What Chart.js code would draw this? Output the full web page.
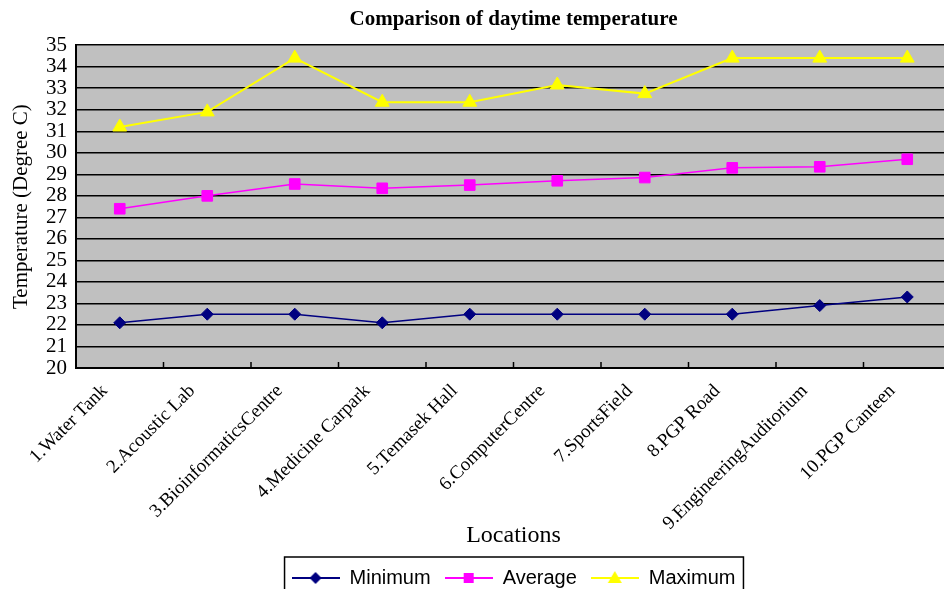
<!DOCTYPE html>
<html>
<head>
<meta charset="utf-8">
<title>Comparison of daytime temperature</title>
<script src="https://cdn.jsdelivr.net/npm/chart.js@4.4.1/dist/chart.umd.min.js"></script>
<style>
  html, body { margin: 0; padding: 0; background: #fff; overflow: hidden; }
  #tempChart { display: block; }
</style>
</head>
<body>
<canvas id="tempChart" width="960" height="598"></canvas>
<script>
const locations = [
  "1.Water Tank", "2.Acoustic Lab", "3.BioinformaticsCentre", "4.Medicine Carpark",
  "5.Temasek Hall", "6.ComputerCentre", "7.SportsField", "8.PGP Road",
  "9.EngineeringAuditorium", "10.PGP Canteen"
];
const minimumTemps = [22.1, 22.5, 22.5, 22.1, 22.5, 22.5, 22.5, 22.5, 22.9, 23.3];
const averageTemps = [27.4, 28.0, 28.55, 28.35, 28.5, 28.7, 28.85, 29.3, 29.35, 29.7];
const maximumTemps = [31.2, 31.9, 34.4, 32.35, 32.35, 33.15, 32.75, 34.4, 34.4, 34.4];
const tempTicks = [20, 21, 22, 23, 24, 25, 26, 27, 28, 29, 30, 31, 32, 33, 34, 35];

const SERIF = "'Liberation Serif', 'Times New Roman', serif";
const SANS = "'Liberation Sans', Arial, sans-serif";

/** small line + marker picture used as legend symbol */
function legendSymbol(color, shape) {
  const c = document.createElement("canvas");
  c.width = 48;
  c.height = 18;
  const g = c.getContext("2d");
  g.strokeStyle = color;
  g.fillStyle = color;
  g.lineWidth = 2;
  g.beginPath();
  g.moveTo(0, 9);
  g.lineTo(48, 9);
  g.stroke();
  g.beginPath();
  if (shape === "diamond") {
    g.moveTo(24, 3); g.lineTo(30, 9); g.lineTo(24, 15); g.lineTo(18, 9);
  } else if (shape === "square") {
    g.rect(19, 4, 10, 10);
  } else {
    g.moveTo(24, 2); g.lineTo(31, 14); g.lineTo(17, 14);
  }
  g.closePath();
  g.fill();
  return c;
}

const legendSymbols = [
  legendSymbol("#000080", "diamond"),
  legendSymbol("#FF00FF", "square"),
  legendSymbol("#FFFF00", "triangle")
];

/** grey plot background */
const plotBackground = {
  id: "plotBackground",
  beforeDraw(chart) {
    const { ctx, chartArea: a } = chart;
    ctx.save();
    ctx.fillStyle = "#C0C0C0";
    ctx.fillRect(a.left, a.top, a.right - a.left, a.bottom - a.top);
    ctx.restore();
  }
};

/** short inward tick marks between categories */
const innerTicks = {
  id: "innerTicks",
  beforeDatasetsDraw(chart) {
    const x = chart.scales.x;
    const bottom = chart.chartArea.bottom;
    const ctx = chart.ctx;
    ctx.save();
    ctx.strokeStyle = "#000";
    ctx.lineWidth = 1.5;
    ctx.beginPath();
    for (let i = 1; i < locations.length; i++) {
      const px = (x.getPixelForValue(i - 1) + x.getPixelForValue(i)) / 2;
      ctx.moveTo(px, bottom);
      ctx.lineTo(px, bottom - 6);
    }
    ctx.stroke();
    ctx.restore();
  }
};

/** frame round the legend */
const legendFrame = {
  id: "legendFrame",
  afterDraw(chart) {
    const boxes = chart.legend.legendHitBoxes;
    if (!boxes || !boxes.length) return;
    const left = Math.min(...boxes.map(b => b.left)) - 7;
    const right = Math.max(...boxes.map(b => b.left + b.width)) + 8;
    const top = boxes[0].top - 11;
    const ctx = chart.ctx;
    ctx.save();
    ctx.strokeStyle = "#000";
    ctx.lineWidth = 1.5;
    ctx.strokeRect(left, top, right - left, chart.height - top + 10);
    ctx.restore();
  }
};

function renderChart() {
  const ctx = document.getElementById("tempChart").getContext("2d");
  new Chart(ctx, {
    type: "line",
    data: {
      labels: locations,
      datasets: [
        {
          label: "Minimum",
          data: minimumTemps,
          borderColor: "#000080",
          backgroundColor: "#000080",
          borderWidth: 1.5,
          pointStyle: "rectRot",
          pointRadius: 6,
          pointBorderWidth: 1
        },
        {
          label: "Average",
          data: averageTemps,
          borderColor: "#FF00FF",
          backgroundColor: "#FF00FF",
          borderWidth: 1.5,
          pointStyle: "rect",
          pointRadius: 7.5,
          pointBorderWidth: 1
        },
        {
          label: "Maximum",
          data: maximumTemps,
          borderColor: "#FFFF00",
          backgroundColor: "#FFFF00",
          borderWidth: 2,
          pointStyle: "triangle",
          pointRadius: 8,
          pointBorderWidth: 1
        }
      ]
    },
    options: {
      responsive: false,
      animation: false,
      layout: { padding: { left: 0, right: 0, top: 0, bottom: 0 } },
      elements: { line: { tension: 0 } },
      plugins: {
        title: {
          display: true,
          text: "Comparison of daytime temperature",
          fullSize: false,
          color: "#000",
          font: { family: SERIF, size: 21, weight: "bold" },
          padding: { top: 7, bottom: 13 }
        },
        legend: {
          position: "bottom",
          fullSize: false,
          labels: {
            usePointStyle: true,
            pointStyleWidth: 48,
            color: "#000",
            font: { family: SANS, size: 20 },
            padding: 14,
            generateLabels(chart) {
              const items = Chart.defaults.plugins.legend.labels.generateLabels(chart);
              items.forEach((item, i) => { item.pointStyle = legendSymbols[i]; });
              return items;
            }
          }
        },
        tooltip: { enabled: false }
      },
      scales: {
        x: {
          offset: true,
          grid: { display: false },
          border: { color: "#000", width: 2 },
          ticks: {
            color: "#000",
            font: { family: SERIF, size: 19 },
            minRotation: 45,
            maxRotation: 45,
            autoSkip: false,
            labelOffset: -15,
            padding: 4
          },
          title: {
            display: true,
            text: "Locations",
            color: "#000",
            font: { family: SERIF, size: 24 },
            padding: { top: 0, bottom: 4 }
          },
          afterFit(scale) { scale.height = 186; }
        },
        y: {
          min: tempTicks[0],
          max: tempTicks[tempTicks.length - 1],
          grid: { color: "#000", lineWidth: 1.5, drawTicks: false },
          border: { color: "#000", width: 2 },
          afterBuildTicks(scale) { scale.ticks = tempTicks.map(v => ({ value: v })); },
          ticks: {
            autoSkip: false,
            color: "#000",
            font: { family: SERIF, size: 21 },
            padding: 9
          },
          title: {
            display: true,
            text: "Temperature (Degree C)",
            color: "#000",
            font: { family: SERIF, size: 21 },
            padding: { top: 9, bottom: 0 }
          },
          afterFit(scale) { scale.width = 76; }
        }
      }
    },
    plugins: [plotBackground, innerTicks, legendFrame]
  });
}

window.onload = renderChart;
</script>
</body>
</html>
